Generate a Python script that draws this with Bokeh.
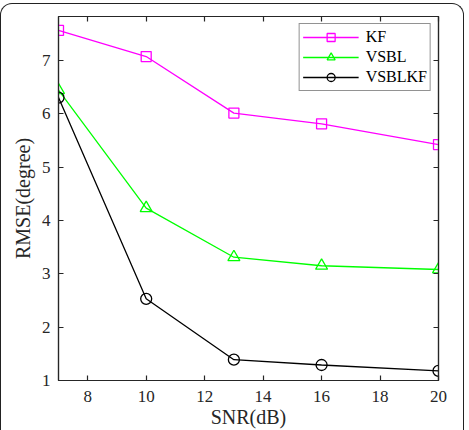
from bokeh.plotting import figure
from bokeh.models import Range1d, LinearAxis, Legend, LegendItem, FixedTicker
from bokeh.embed import file_html
from bokeh.resources import INLINE

# SNR levels (dB) and RMSE (degree) of each estimator
snr = [7, 10, 13, 16, 20]
rmse_kf = [7.56, 7.07, 6.01, 5.81, 5.42]
rmse_vsbl = [6.44, 4.23, 3.31, 3.15, 3.08]
rmse_vsblkf = [6.30, 2.53, 1.39, 1.29, 1.18]

x_ticks = [8, 10, 12, 14, 16, 18, 20]
y_ticks = [1, 2, 3, 4, 5, 6, 7]

FONT = "Liberation Serif"
INK = "#262626"

p = figure(width=469, height=430, output_backend="svg", toolbar_location=None,
           x_range=Range1d(7, 20), y_range=Range1d(1, 7.82),
           min_border_left=58, min_border_right=31, min_border_top=16,
           min_border_bottom=50)
p.background_fill_color = "white"
p.border_fill_color = "white"
p.outline_line_color = INK
p.outline_line_width = 1.2
p.xgrid.visible = False
p.ygrid.visible = False

# rounded frame drawn around the whole figure
p.stylesheets = [
    ":host { position: relative; }"
    ":host::after { content: ''; position: absolute; left: 0px; top: 3px;"
    " width: 464px; height: 427px; box-sizing: border-box;"
    " border: 1.5px solid #222222; border-bottom: none;"
    " border-radius: 12px 12px 0 0; pointer-events: none; z-index: 10; }"
]

def style_axis(ax, ticks, show_labels):
    ax.ticker = FixedTicker(ticks=ticks)
    ax.major_tick_in = 5
    ax.major_tick_out = 0
    ax.minor_tick_in = 0
    ax.minor_tick_out = 0
    ax.axis_line_color = INK
    ax.axis_line_width = 1.2
    ax.major_tick_line_color = INK
    ax.major_tick_line_width = 1.2
    ax.major_label_text_font = FONT
    if show_labels:
        ax.major_label_text_font_size = "17px"
        ax.major_label_text_color = INK
    else:
        ax.major_label_text_font_size = "1px"
        ax.major_label_text_color = None
        ax.major_label_standoff = 0

xa = p.xaxis[0]
ya = p.yaxis[0]
style_axis(xa, x_ticks, True)
style_axis(ya, y_ticks, True)
xa.major_label_standoff = 10
ya.major_label_standoff = 8
xa.axis_label = "SNR(dB)"
ya.axis_label = "RMSE(degree)"
for ax in (xa, ya):
    ax.axis_label_text_font = FONT
    ax.axis_label_text_font_size = "20px"
    ax.axis_label_text_font_style = "normal"
    ax.axis_label_text_color = INK
xa.axis_label_standoff = 1
ya.axis_label_standoff = 5

top_ax = LinearAxis()
right_ax = LinearAxis()
style_axis(top_ax, x_ticks, False)
style_axis(right_ax, y_ticks, False)
p.add_layout(top_ax, "above")
p.add_layout(right_ax, "right")

series = [
    ("KF", rmse_kf, "#FF00FF", "square", 10),
    ("VSBL", rmse_vsbl, "#00FF00", "triangle", 12),
    ("VSBLKF", rmse_vsblkf, "black", "circle", 11),
]

items = []
for name, vals, color, marker, size in series:
    ln = p.line(snr, vals, line_color=color, line_width=1.3)
    sc = p.scatter(snr, vals, marker=marker, size=size, line_color=color,
                   line_width=1.3, fill_color=None)
    items.append(LegendItem(label=name, renderers=[ln, sc]))

legend = Legend(items=items, location="top_right", margin=7,
                padding=3, spacing=0, glyph_width=56, glyph_height=20,
                label_height=20, label_standoff=7,
                label_text_font=FONT, label_text_font_size="16px",
                label_text_color="black",
                border_line_color=INK, border_line_width=1.2,
                background_fill_color="white", background_fill_alpha=1.0)
p.add_layout(legend)

open("out.html", "w").write(file_html(p, INLINE))
